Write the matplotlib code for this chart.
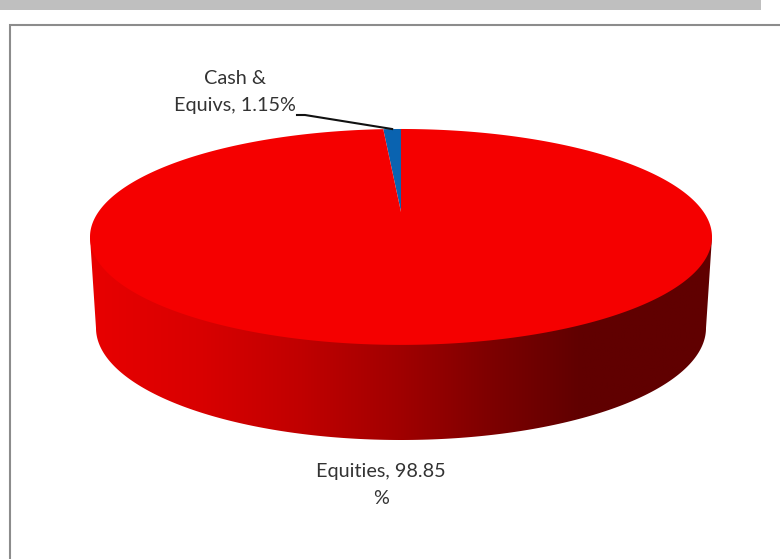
import matplotlib
matplotlib.use("Agg")
import matplotlib.pyplot as plt
import numpy as np
from matplotlib.colors import LinearSegmentedColormap
from matplotlib.patches import Polygon, Rectangle

categories = ["Cash & Equivs", "Equities"]
shares = [1.15, 98.85]
slice_colors = ["#0a63b0", "#f50000"]

plt.rcParams["font.family"] = ["Lato", "DejaVu Sans"]

# axes run in pixels of the 780x559 picture
fig = plt.figure(figsize=(7.8, 5.59), dpi=100)
ax = fig.add_axes([0, 0, 1, 1])
ax.set_xlim(0, 780)
ax.set_ylim(559, 0)
ax.axis("off")

# page furniture
ax.add_patch(Rectangle((0, 0), 761, 10, color="#bfbfbf", lw=0))
ax.plot([10, 10, 780], [559, 25, 25], color="#8c8c8c", lw=1.5, solid_joinstyle="miter")

# perspective of the pie top: hub at y=212 though the rim ellipse is centred at y=237
CX, HUB_Y = 401, 212
P, SCALE_X, SCALE_Y = 0.231, 302.6, 102.2


def rim(turn):
    # turn = 0..1 clockwise from 12 o'clock
    t = 2 * np.pi * np.asarray(turn)
    u, v = np.sin(t), np.cos(t)
    w = 1 + P * v
    return CX + SCALE_X * u / w, HUB_Y - SCALE_Y * v / w


# side wall, gradient clipped to the silhouette
t = np.linspace(0, np.pi, 200)
wall_x = 401 + 305 * np.cos(t)
wall_y = 328 + 112 * np.sin(t)
wall = np.column_stack([np.r_[712, wall_x, 90], np.r_[237, wall_y, 237]])
clip = Polygon(wall, closed=True, transform=ax.transData, fc="none", ec="none")
ax.add_patch(clip)
cmap = LinearSegmentedColormap.from_list(
    "side",
    [(0, "#e80000"), (0.18, "#d80000"), (0.34, "#c00000"), (0.5, "#a00000"),
     (0.66, "#7a0000"), (0.79, "#600000"), (1, "#600000")],
)
grad = ax.imshow(
    np.linspace(0, 1, 256)[None, :], cmap=cmap, extent=(90, 712, 445, 230),
    aspect="auto", interpolation="bilinear", zorder=1,
)
grad.set_clip_path(clip)
ax.set_xlim(0, 780)
ax.set_ylim(559, 0)

# top face, slices run counter-clockwise from 12 o'clock as in the source
fractions = np.array(shares) / sum(shares)
start = 0.0
for frac, col in zip(fractions, slice_colors):
    turns = np.linspace(-start, -(start + frac), 400)
    x, y = rim(turns)
    ax.add_patch(Polygon(np.column_stack([np.r_[CX, x], np.r_[HUB_Y, y]]), closed=True,
                         fc=col, ec="none", zorder=2))
    start += frac

# labels
txt = dict(fontsize=14.3, color="#333333", ha="center", va="center", zorder=4, linespacing=1.68)
ax.text(234.5, 92, f"Cash &\nEquivs, {shares[0]:.2f}%", **txt)
ax.text(381, 485, f"Equities, {shares[1]:.2f}\n%", **txt)

# leader line ends on the middle of the blue slice's rim
lx, ly = rim(-fractions[0] / 2)
ax.plot([297, 305, lx], [115, 115, ly], color="#111111", lw=1.5, zorder=3)

fig.savefig("out.png", dpi=100)
